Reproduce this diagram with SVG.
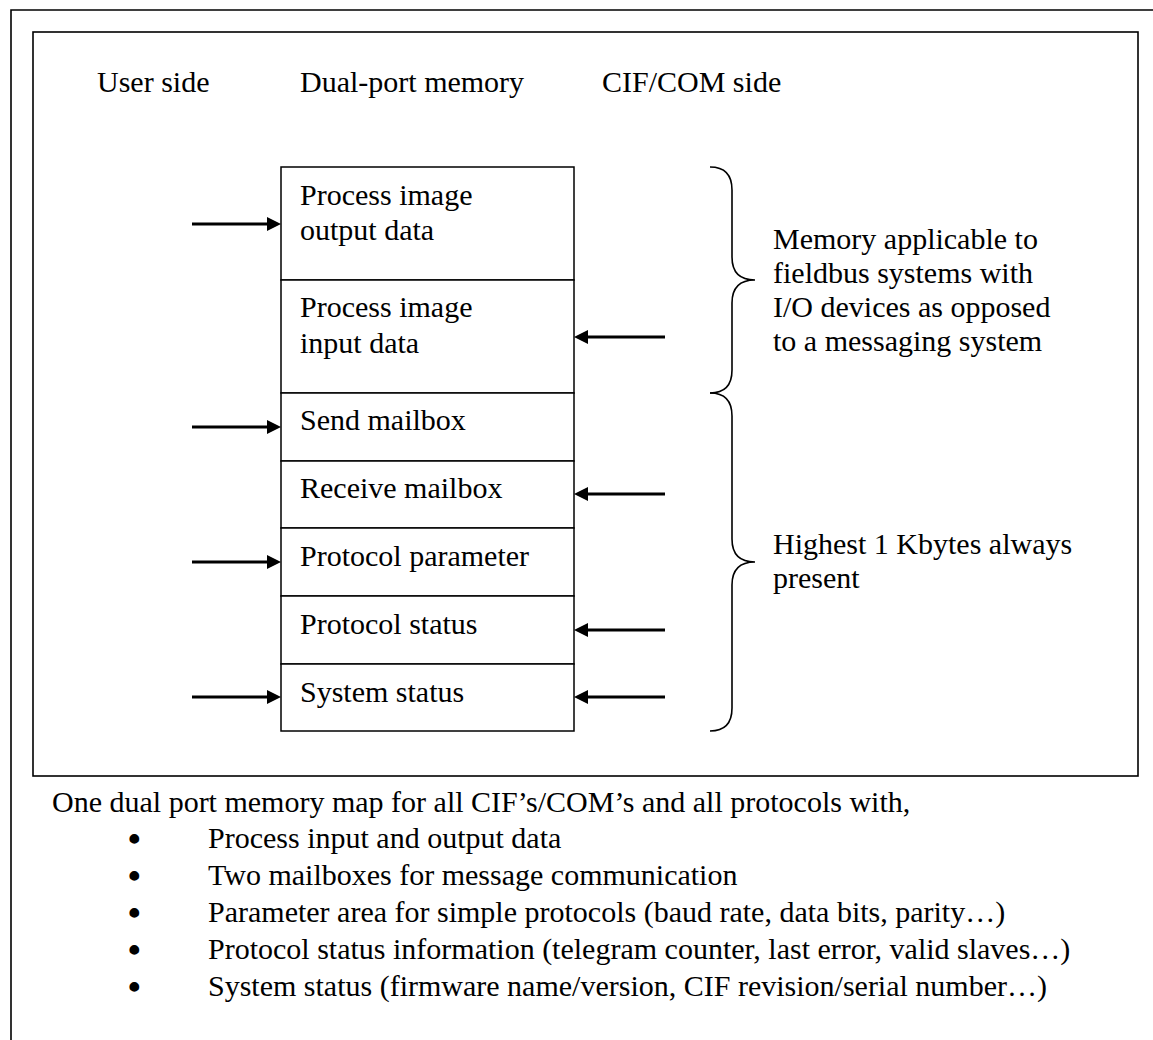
<svg xmlns="http://www.w3.org/2000/svg" width="1153" height="1040" viewBox="0 0 1153 1040">
<style>
text{font-family:"Liberation Serif","Times New Roman",serif;font-size:30px;fill:#000}
tspan.bul{font-size:36px;font-weight:bold}
tspan.txt{font-size:30px;font-weight:normal}
.frame{fill:none;stroke:#000;stroke-width:1.6}
.cell{fill:#fff;stroke:#000;stroke-width:1.5}
.arr{stroke:#000;stroke-width:3;fill:none}
.brace{fill:none;stroke:#000;stroke-width:1.6}
</style>
<defs>
<marker id="ah" markerUnits="userSpaceOnUse" markerWidth="14" markerHeight="14" refX="10" refY="7" orient="auto">
<path d="M0,0 L14,7 L0,14 z" fill="#000"/>
</marker>
</defs>
<rect width="1153" height="1040" fill="#fff"/>
<g id="outer-frame">
<path class="frame" d="M11,1040 L11,10 L1153,10"/>
</g>
<g id="inner-frame">
<rect class="frame" x="33" y="32" width="1105" height="744"/>
</g>
<g id="headers">
<text id="h-user" x="97" y="92">User side</text>
<text id="h-dpm" x="300" y="92">Dual-port memory</text>
<text id="h-cif" x="602" y="92">CIF/COM side</text>
</g>
<g id="pi-output">
<rect class="cell" x="281" y="167" width="293" height="113"/>
<text x="300" y="205">Process image</text>
<text x="300" y="240">output data</text>
</g>
<g id="pi-input">
<rect class="cell" x="281" y="280" width="293" height="113"/>
<text x="300" y="317">Process image</text>
<text x="300" y="353">input data</text>
</g>
<g id="send-mailbox">
<rect class="cell" x="281" y="393" width="293" height="68"/>
<text x="300" y="430">Send mailbox</text>
</g>
<g id="receive-mailbox">
<rect class="cell" x="281" y="461" width="293" height="67"/>
<text x="300" y="498">Receive mailbox</text>
</g>
<g id="protocol-parameter">
<rect class="cell" x="281" y="528" width="293" height="68"/>
<text x="300" y="566">Protocol parameter</text>
</g>
<g id="protocol-status">
<rect class="cell" x="281" y="596" width="293" height="68"/>
<text x="300" y="634">Protocol status</text>
</g>
<g id="system-status">
<rect class="cell" x="281" y="664" width="293" height="67"/>
<text x="300" y="702">System status</text>
</g>
<g id="connectors">
<line class="arr" x1="192" y1="224" x2="277" y2="224" marker-end="url(#ah)"/>
<line class="arr" x1="665" y1="337" x2="578" y2="337" marker-end="url(#ah)"/>
<line class="arr" x1="192" y1="427" x2="277" y2="427" marker-end="url(#ah)"/>
<line class="arr" x1="665" y1="494" x2="578" y2="494" marker-end="url(#ah)"/>
<line class="arr" x1="192" y1="562" x2="277" y2="562" marker-end="url(#ah)"/>
<line class="arr" x1="665" y1="630" x2="578" y2="630" marker-end="url(#ah)"/>
<line class="arr" x1="192" y1="697" x2="277" y2="697" marker-end="url(#ah)"/>
<line class="arr" x1="665" y1="697" x2="578" y2="697" marker-end="url(#ah)"/>
</g>
<g id="brace-io">
<path class="brace" d="M710,167 C725,167 732,175 732,190 L732,257 C732,272 740,280 755,280 C740,280 732,288 732,303 L732,370 C732,385 725,393 710,393"/>
<text x="773" y="249">Memory applicable to</text>
<text x="773" y="283">fieldbus systems with</text>
<text x="773" y="317">I/O devices as opposed</text>
<text x="773" y="351">to a messaging system</text>
</g>
<g id="brace-1k">
<path class="brace" d="M710,393 C725,393 732,401 732,416 L732,539 C732,554 740,562 755,562 C740,562 732,570 732,585 L732,708 C732,723 725,731 710,731"/>
<text x="773" y="554">Highest 1 Kbytes always</text>
<text x="773" y="588">present</text>
</g>
<g id="summary">
<text x="52" y="812">One dual port memory map for all CIF’s/COM’s and all protocols with,</text>
<text x="128" y="848"><tspan class="bul" dy="3">•</tspan><tspan class="txt" x="208" dy="-3">Process input and output data</tspan></text>
<text x="128" y="885"><tspan class="bul" dy="3">•</tspan><tspan class="txt" x="208" dy="-3">Two mailboxes for message communication</tspan></text>
<text x="128" y="922"><tspan class="bul" dy="3">•</tspan><tspan class="txt" x="208" dy="-3">Parameter area for simple protocols (baud rate, data bits, parity…)</tspan></text>
<text x="128" y="959"><tspan class="bul" dy="3">•</tspan><tspan class="txt" x="208" dy="-3">Protocol status information (telegram counter, last error, valid slaves…)</tspan></text>
<text x="128" y="996"><tspan class="bul" dy="3">•</tspan><tspan class="txt" x="208" dy="-3">System status (firmware name/version, CIF revision/serial number…)</tspan></text>
</g>
</svg>
